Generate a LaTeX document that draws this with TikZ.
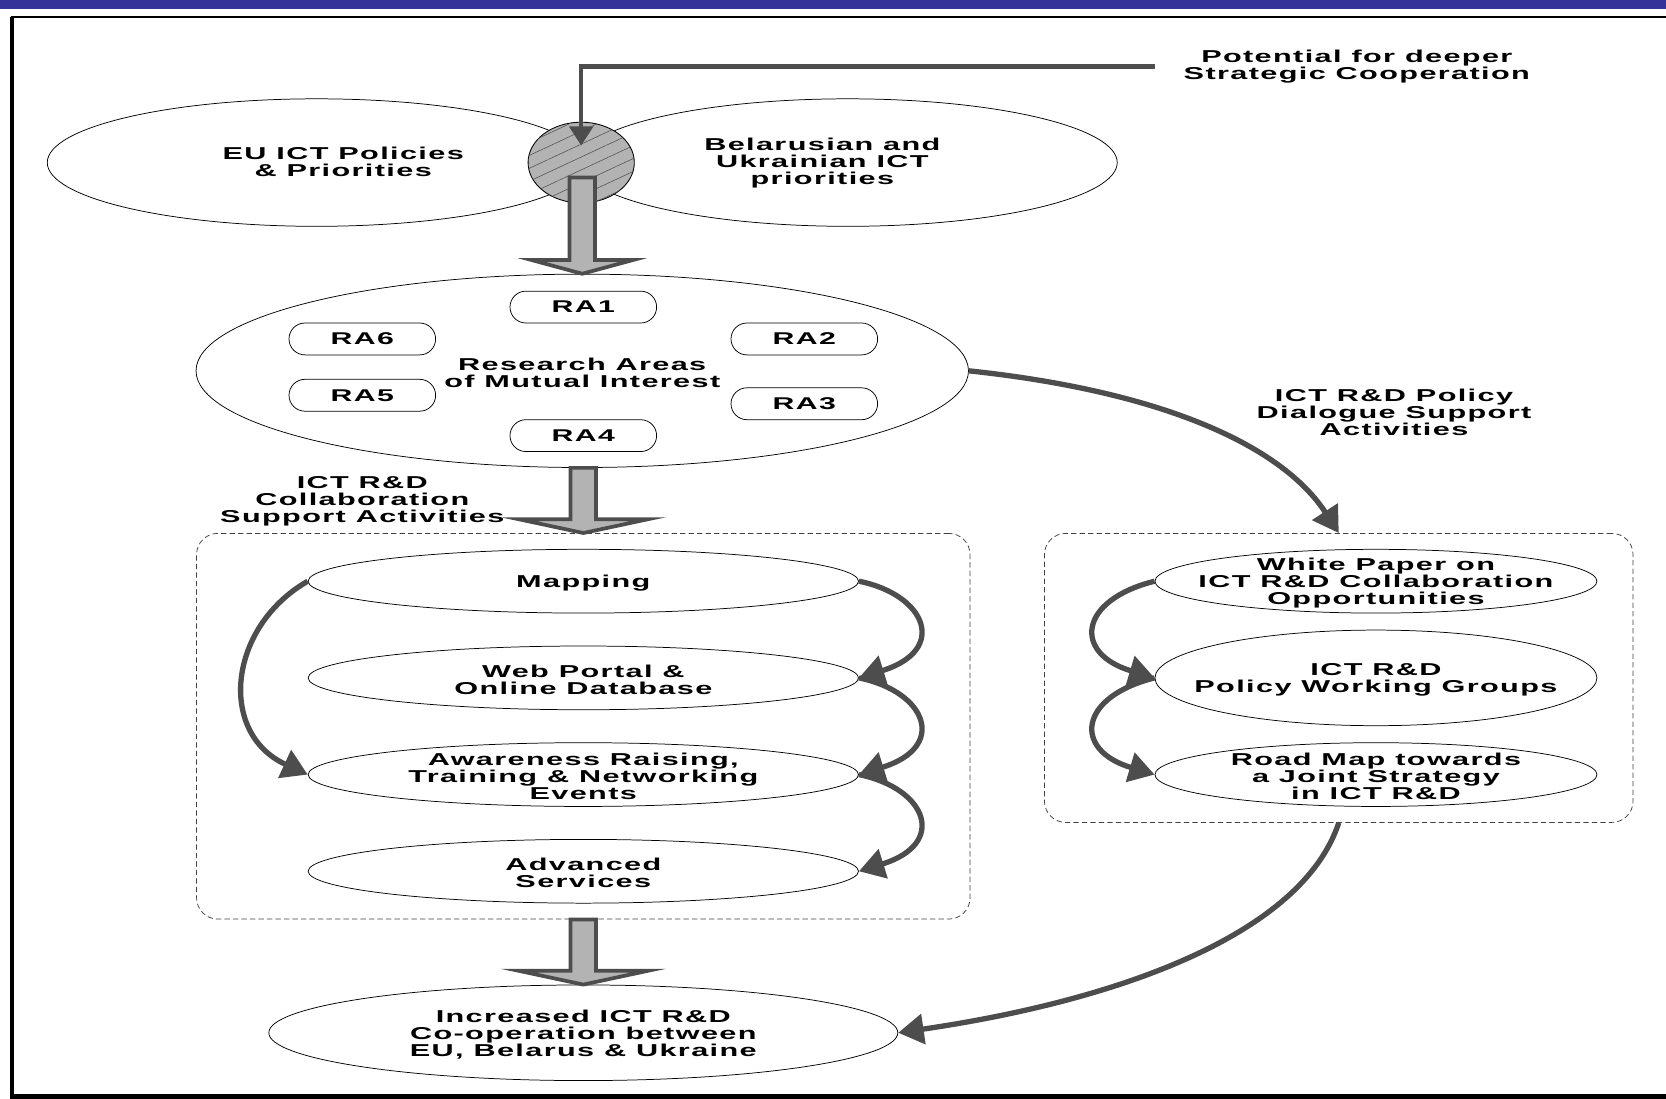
\documentclass[tikz,border=0pt]{standalone}
\usepackage{fontspec}
\setmainfont{Liberation Sans}[FakeStretch=1.78, LetterSpace=8]
\usetikzlibrary{shapes.geometric,shapes.misc,arrows.meta,calc,patterns.meta}
\definecolor{dg}{HTML}{4D4D4D}
\definecolor{lg}{HTML}{B3B3B3}
\definecolor{bandblue}{HTML}{333399}
\newcommand\hollowarrow[3]{%
  \draw[hollow] let \p1=(#1), \p2=(#2) in
    (\x2-12pt,\y1) -- (\x2+12pt,\y1) -- (\x2+12pt,\y2+13pt) -- (\x2+#3,\y2+13pt)
    -- (\x2,\y2) -- (\x2-#3,\y2+13pt) -- (\x2-12pt,\y2+13pt) -- cycle;}
\begin{document}
\begin{tikzpicture}[x=1pt,y=-1pt,
  ell/.style={ellipse, draw=black, line width=0.7pt, inner sep=0pt},
  pill/.style={rounded rectangle, draw=black, line width=0.7pt, minimum width=138pt,
    minimum height=30pt, inner sep=0pt, font=\bfseries\fontsize{16}{16}\selectfont},
  lbl/.style={align=center, inner sep=0pt, yshift=-1.5pt, font=\bfseries\fontsize{16.2}{16}\selectfont},
  darr/.style={draw=dg, line width=5pt, -{Triangle[length=24pt,width=28pt]}},
  hollow/.style={fill=lg, draw=dg, line width=3.5pt, line join=miter},
  dbox/.style={draw=black!75, dash pattern=on 5pt off 3pt, rounded corners=20pt,
    line width=0.7pt, inner sep=0pt}]
\useasboundingbox (0,0) rectangle (1568,1034);
% frame
\fill[bandblue] (0,0) rectangle (1568,8);
\draw[line width=2pt] (10,16) -- (1568,16);
\draw[line width=4pt] (11.5,16) -- (11.5,1032) -- (1568,1032);
% top ellipses
\node[ell, minimum width=507pt, minimum height=120pt] (eu) at (298,153) {};
\node[ell, minimum width=507pt, minimum height=120pt] (by) at (798,153) {};
\node[lbl] (eut) at (323,151) {EU ICT Policies\\\& Priorities};
\node[lbl] (byt) at (774,152) {Belarusian and\\Ukrainian ICT\\priorities};
\node[ellipse, draw=black, line width=0.8pt, minimum width=100pt, minimum height=76pt,
  inner sep=0pt, fill=lg,
  postaction={pattern={Lines[angle=25,distance=11pt,line width=0.5pt]}, pattern color=dg}]
  (iso) at (547,153) {};
\node[lbl] (pot) at (1277,61) {Potential for deeper\\Strategic Cooperation};
\coordinate (isotip) at ($(iso.center)+(0,-16)$);
\draw[draw=dg, line width=4pt, -{Triangle[length=18pt,width=22pt]}, shorten <=27pt]
  (pot.west) -| (isotip);
% research areas
\node[ell, minimum width=727pt, minimum height=182pt] (ra) at (548,349) {};
\node[lbl] (rat) at (548,349) {Research Areas\\of Mutual Interest};
\node[pill] (ra1) at (549,289) {RA1};
\node[pill] (ra6) at (341,319) {RA6};
\node[pill] (ra2) at (757,319) {RA2};
\node[pill] (ra5) at (341,372) {RA5};
\node[pill] (ra3) at (757,380) {RA3};
\node[pill] (ra4) at (549,410) {RA4};
\coordinate (h1s) at ($(iso.center)+(0,14)$);
\hollowarrow{h1s}{ra.north}{48pt}
% left box
\node[dbox, minimum width=728pt, minimum height=363pt] (lbox) at (549,683.5) {};
\node[lbl] (colt) at (341,470) {ICT R\&D\\Collaboration\\Support Activities};
\hollowarrow{ra.south}{lbox.north}{61pt}
\node[ell, minimum width=518pt, minimum height=60pt] (map) at (549,547) {};
\node[lbl] at (map) {Mapping};
\node[ell, minimum width=518pt, minimum height=60pt] (web) at (549,638) {};
\node[lbl] at (web) {Web Portal \&\\Online Database};
\node[ell, minimum width=518pt, minimum height=60pt] (awa) at (549,729) {};
\node[lbl] at (awa) {Awareness Raising,\\Training \& Networking\\Events};
\node[ell, minimum width=518pt, minimum height=60pt] (adv) at (549,820) {};
\node[lbl] at (adv) {Advanced\\Services};
\draw[darr] (map.east) .. controls ($(map.east)+(64,13)$) and ($(web.east)+(84,-26)$) .. (web.east);
\draw[darr] (web.east) .. controls ($(web.east)+(64,13)$) and ($(awa.east)+(84,-26)$) .. (awa.east);
\draw[darr] (awa.east) .. controls ($(awa.east)+(64,13)$) and ($(adv.east)+(84,-26)$) .. (adv.east);
\draw[darr] (map.west) .. controls ($(map.west)+(-75,43)$) and ($(awa.west)+(-85,-39)$) .. (awa.west);
% right box
\node[dbox, minimum width=554pt, minimum height=272pt] (rbox) at (1260,638) {};
\node[lbl] (dialt) at (1312,387) {ICT R\&D Policy\\Dialogue Support\\Activities};
\node[ell, minimum width=416pt, minimum height=60pt] (wp) at (1295,547) {};
\node[lbl] at (wp) {White Paper on\\ICT R\&D Collaboration\\Opportunities};
\node[ell, minimum width=416pt, minimum height=90pt] (pol) at (1295,638) {};
\node[lbl] at (pol) {ICT R\&D\\Policy Working Groups};
\node[ell, minimum width=416pt, minimum height=60pt] (rm) at (1295,729) {};
\node[lbl] at (rm) {Road Map towards\\a Joint Strategy\\in ICT R\&D};
\draw[darr] (wp.west) .. controls ($(wp.west)+(-72,18)$) and ($(pol.west)+(-77,-23)$) .. (pol.west);
\draw[darr] (pol.west) .. controls ($(pol.west)+(-72,18)$) and ($(rm.west)+(-77,-23)$) .. (rm.west);
\draw[darr] (ra.east) .. controls ($(ra.east)+(188,20)$) and ($(rbox.north)+(-52,-80)$) .. (rbox.north);
% final
\node[ell, minimum width=592pt, minimum height=90pt] (fin) at (549,972) {};
\node[lbl] at (fin) {Increased ICT R\&D\\Co-operation between\\EU, Belarus \& Ukraine};
\hollowarrow{lbox.south}{fin.north}{61pt}
\draw[darr] (rbox.south) .. controls ($(rbox.south)+(-35,106)$) and ($(fin.east)+(205,-30)$) .. (fin.east);
\end{tikzpicture}
\end{document}
